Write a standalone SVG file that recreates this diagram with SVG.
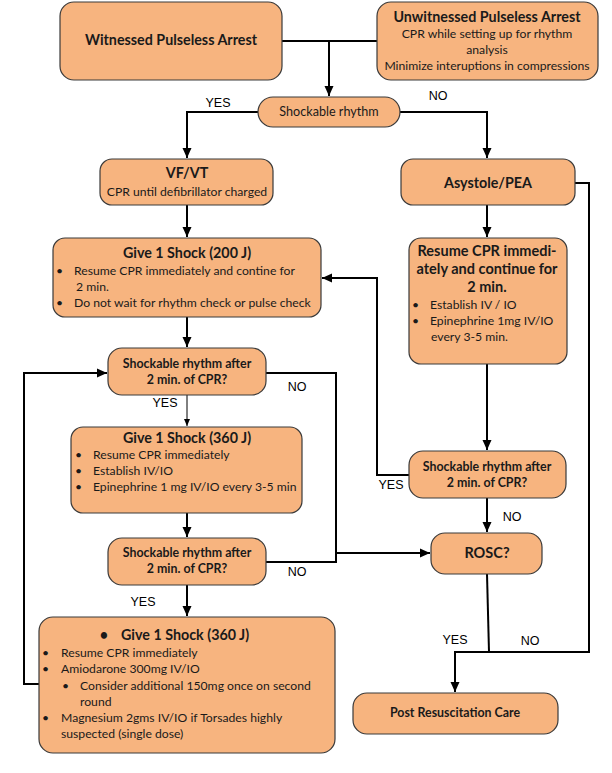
<svg xmlns="http://www.w3.org/2000/svg" width="612" height="773" viewBox="0 0 612 773">
<defs>
<marker id="ah" markerUnits="userSpaceOnUse" markerWidth="10" markerHeight="10" refX="10" refY="5" orient="auto"><path d="M0,0.5 L10,5 L0,9.5 z" fill="#000"/></marker>
<marker id="ahs" markerUnits="userSpaceOnUse" markerWidth="7" markerHeight="7" refX="7" refY="3.5" orient="auto"><path d="M0,0.5 L7,3.5 L0,6.5 z" fill="#000"/></marker>
</defs>
<style>
.box{fill:#F7B47F;stroke:#3a3a3a;stroke-width:1.2}
text{font-family:Lato,"Open Sans","Liberation Sans",sans-serif;fill:#1a1a1a}
.t{font-weight:bold;font-size:14.3px;text-anchor:middle}
.tl{font-weight:bold;font-size:14.5px;text-anchor:middle}
.q{font-weight:bold;font-size:12.4px;text-anchor:middle}
.b{font-size:12.2px}
.bc{font-size:12.2px;text-anchor:middle}
.lab{font-family:"Liberation Sans",Arial,sans-serif;font-size:12.5px;text-anchor:middle;fill:#000}
.c{fill:none;stroke:#000;stroke-width:2}
.cs{fill:none;stroke:#000;stroke-width:1}
</style>
<g id="connectors">
<path class="c" d="M282,41 H377"/>
<path class="c" d="M329,41 V96" marker-end="url(#ah)"/>
<path class="c" d="M258,112 H187 V158" marker-end="url(#ah)"/>
<path class="c" d="M400,112 H487 V158" marker-end="url(#ah)"/>
<path class="c" d="M187,205 V237" marker-end="url(#ah)"/>
<path class="c" d="M487,205 V237" marker-end="url(#ah)"/>
<path class="c" d="M575,183 H589 V652 H455 V692" marker-end="url(#ah)"/>
<path class="c" d="M187,317 V347" marker-end="url(#ah)"/>
<path class="c" d="M39,684 H24 V373 H107" marker-end="url(#ah)"/>
<path class="c" d="M266,373 H336 V562 H266"/>
<path class="c" d="M336,553 H430" marker-end="url(#ah)"/>
<path class="c" d="M409,475 H377 V278 H322" marker-end="url(#ah)"/>
<path class="cs" d="M187,395 V426" marker-end="url(#ahs)"/>
<path class="c" d="M187,513 V537" marker-end="url(#ah)"/>
<path class="c" d="M487,364 V450" marker-end="url(#ah)"/>
<path class="c" d="M487,498 V532" marker-end="url(#ah)"/>
<path class="c" d="M187,585 V616" marker-end="url(#ah)"/>
<path class="c" d="M487,574 L489,652"/>
<text class="lab" x="218" y="107">YES</text>
<text class="lab" x="438" y="100">NO</text>
<text class="lab" x="297" y="391">NO</text>
<text class="lab" x="165" y="407">YES</text>
<text class="lab" x="391" y="489">YES</text>
<text class="lab" x="512" y="521">NO</text>
<text class="lab" x="297" y="576">NO</text>
<text class="lab" x="143" y="606">YES</text>
<text class="lab" x="455" y="644">YES</text>
<text class="lab" x="530" y="645">NO</text>
</g>
<g id="witnessed">
<rect class="box" x="60" y="2" width="222" height="78" rx="14"/>
<text class="t" x="171" y="45">Witnessed Pulseless Arrest</text>
</g>
<g id="unwitnessed">
<rect class="box" x="377" y="2" width="221" height="78" rx="14"/>
<text class="t" x="487" y="22">Unwitnessed Pulseless Arrest</text>
<text class="bc" x="487" y="38">CPR while setting up for rhythm</text>
<text class="bc" x="487" y="54">analysis</text>
<text class="bc" x="487" y="70">Minimize interuptions in compressions</text>
</g>
<g id="shockable">
<rect class="box" x="258" y="97" width="142" height="30" rx="15"/>
<text class="bc" x="329" y="116" style="font-size:12.6px">Shockable rhythm</text>
</g>
<g id="vfvt">
<rect class="box" x="100" y="159" width="173" height="46" rx="12"/>
<text class="t" x="187" y="178">VF/VT</text>
<text class="bc" x="187" y="196">CPR until defibrillator charged</text>
</g>
<g id="asystole">
<rect class="box" x="401" y="159" width="174" height="46" rx="12"/>
<text class="t" x="488" y="188">Asystole/PEA</text>
</g>
<g id="shock200">
<rect class="box" x="53" y="238" width="268" height="79" rx="12"/>
<text class="t" x="187" y="258">Give 1 Shock (200 J)</text>
<text class="b" x="56" y="275">•</text>
<text class="b" x="74" y="275">Resume CPR immediately and contine for</text>
<text class="b" x="76" y="291">2 min.</text>
<text class="b" x="56" y="307">•</text>
<text class="b" x="74" y="307">Do not wait for rhythm check or pulse check</text>
</g>
<g id="resumecpr">
<rect class="box" x="409" y="238" width="158" height="126" rx="12"/>
<text class="tl" x="487" y="256">Resume CPR immedi-</text>
<text class="tl" x="487" y="274">ately and continue for</text>
<text class="tl" x="487" y="292">2 min.</text>
<text class="b" x="412" y="309">•</text>
<text class="b" x="430" y="309">Establish IV / IO</text>
<text class="b" x="412" y="325">•</text>
<text class="b" x="430" y="325">Epinephrine 1mg IV/IO</text>
<text class="b" x="431" y="341">every 3-5 min.</text>
</g>
<g id="check1">
<rect class="box" x="108" y="348" width="158" height="47" rx="14"/>
<text class="q" x="187" y="368">Shockable rhythm after</text>
<text class="q" x="187" y="384">2 min. of CPR?</text>
</g>
<g id="shock360a">
<rect class="box" x="71" y="427" width="231" height="86" rx="12"/>
<text class="t" x="187" y="443">Give 1 Shock (360 J)</text>
<text class="b" x="75" y="459">•</text>
<text class="b" x="93" y="459">Resume CPR immediately</text>
<text class="b" x="75" y="475">•</text>
<text class="b" x="93" y="475">Establish IV/IO</text>
<text class="b" x="75" y="491">•</text>
<text class="b" x="93" y="491">Epinephrine 1 mg IV/IO every 3-5 min</text>
</g>
<g id="checkR">
<rect class="box" x="409" y="451" width="157" height="47" rx="14"/>
<text class="q" x="487" y="471">Shockable rhythm after</text>
<text class="q" x="487" y="487">2 min. of CPR?</text>
</g>
<g id="check2">
<rect class="box" x="108" y="538" width="158" height="47" rx="14"/>
<text class="q" x="187" y="557">Shockable rhythm after</text>
<text class="q" x="187" y="573">2 min. of CPR?</text>
</g>
<g id="rosc">
<rect class="box" x="431" y="533" width="111" height="41" rx="14"/>
<text class="tl" x="487" y="558">ROSC?</text>
</g>
<g id="shock360b">
<rect class="box" x="39" y="617" width="296" height="136" rx="14"/>
<text class="t" x="104" y="640">•</text>
<text class="t" x="121" y="640" style="text-anchor:start">Give 1 Shock (360 J)</text>
<text class="b" x="42" y="657">•</text>
<text class="b" x="61" y="657">Resume CPR immediately</text>
<text class="b" x="42" y="673">•</text>
<text class="b" x="61" y="673">Amiodarone 300mg IV/IO</text>
<text class="b" x="62" y="690">•</text>
<text class="b" x="80" y="690">Consider additional 150mg once on second</text>
<text class="b" x="80" y="706">round</text>
<text class="b" x="42" y="722">•</text>
<text class="b" x="61" y="722">Magnesium 2gms IV/IO if Torsades highly</text>
<text class="b" x="61" y="738">suspected (single dose)</text>
</g>
<g id="postcare">
<rect class="box" x="353" y="693" width="205" height="41" rx="14"/>
<text class="q" x="455" y="717">Post Resuscitation Care</text>
</g>
</svg>
